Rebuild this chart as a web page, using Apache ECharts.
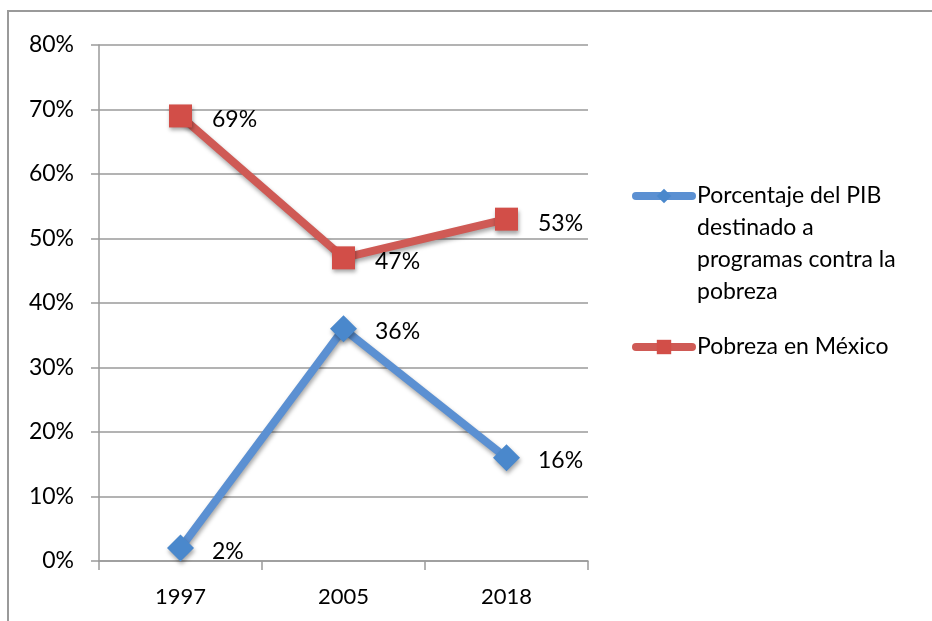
<!DOCTYPE html>
<html>
<head>
<meta charset="utf-8">
<script src="https://cdn.jsdelivr.net/npm/echarts@6/dist/echarts.min.js"></script>
<style>html,body{margin:0;padding:0;background:#fff;overflow:hidden}#c{width:932px;height:621px}</style>
</head>
<body>
<div id="c"></div>
<script>
var categories = ['1997', '2005', '2018'];
var gdpShare = [2, 36, 16];
var poverty = [69, 47, 53];
var seriesNames = ['Porcentaje del PIB destinado a programas contra la pobreza', 'Pobreza en México'];
var legendLabels = ['Porcentaje del PIB\ndestinado a\nprogramas contra la\npobreza', 'Pobreza en México'];

var FONT = 'Lato';
var chart = echarts.init(document.getElementById('c'));
var shadow = {shadowBlur: 4, shadowOffsetX: 1, shadowOffsetY: 3, shadowColor: 'rgba(0,0,0,0.35)'};

chart.setOption({
  animation: false,
  textStyle: {fontFamily: FONT},
  graphic: [{
    type: 'polyline', shape: {points: [[8, 640], [8, 11], [940, 11]]},
    style: {fill: 'none', stroke: '#9a9a9a', lineWidth: 2}, silent: true
  }],
  grid: {left: 99, right: 344, top: 45, bottom: 60, containLabel: false},
  legend: {
    orient: 'vertical', left: 632, top: 84, padding: 0,
    itemWidth: 56, itemHeight: 18, itemGap: 23,
    lineStyle: {width: 8, cap: 'round'},
    textStyle: {fontFamily: FONT, fontSize: 23, color: '#000', lineHeight: 32},
    formatter: function (name) {
      var i = seriesNames.indexOf(name);
      return i === 0 ? '\n\n\n' + legendLabels[0] : legendLabels[i];
    },
    data: seriesNames
  },
  xAxis: {
    type: 'category', data: categories, boundaryGap: true,
    axisLine: {lineStyle: {color: '#9a9a9a', width: 1.5}},
    axisTick: {show: true, length: 9, lineStyle: {color: '#9a9a9a', width: 1.5}},
    axisLabel: {color: '#000', fontSize: 22, fontFamily: FONT, margin: 25}
  },
  yAxis: {
    type: 'value', min: 0, max: 80, interval: 10,
    axisLine: {show: true, lineStyle: {color: '#9a9a9a', width: 1.5}},
    axisTick: {show: true, length: 8, lineStyle: {color: '#9a9a9a', width: 1.5}},
    splitLine: {lineStyle: {color: '#9a9a9a', width: 1.5}},
    axisLabel: {color: '#000', fontSize: 23, fontFamily: FONT, margin: 25, formatter: '{value}%'}
  },
  series: [{
    name: seriesNames[0], type: 'line', data: gdpShare,
    symbol: 'diamond', symbolSize: 27,
    lineStyle: Object.assign({color: '#5B90D2', width: 8}, shadow),
    itemStyle: Object.assign({color: '#4A88CC'}, shadow),
    label: {show: true, position: 'right', distance: 18, offset: [0, 3], formatter: '{c}%',
      color: '#000', fontSize: 23, fontFamily: FONT}
  }, {
    name: seriesNames[1], type: 'line', data: poverty,
    symbol: 'rect', symbolSize: 23,
    lineStyle: Object.assign({color: '#CF5A55', width: 8}, shadow),
    itemStyle: Object.assign({color: '#D24E48'}, shadow),
    label: {show: true, position: 'right', distance: 20, offset: [0, 4], formatter: '{c}%',
      color: '#000', fontSize: 23, fontFamily: FONT}
  }]
});
</script>
</body>
</html>
